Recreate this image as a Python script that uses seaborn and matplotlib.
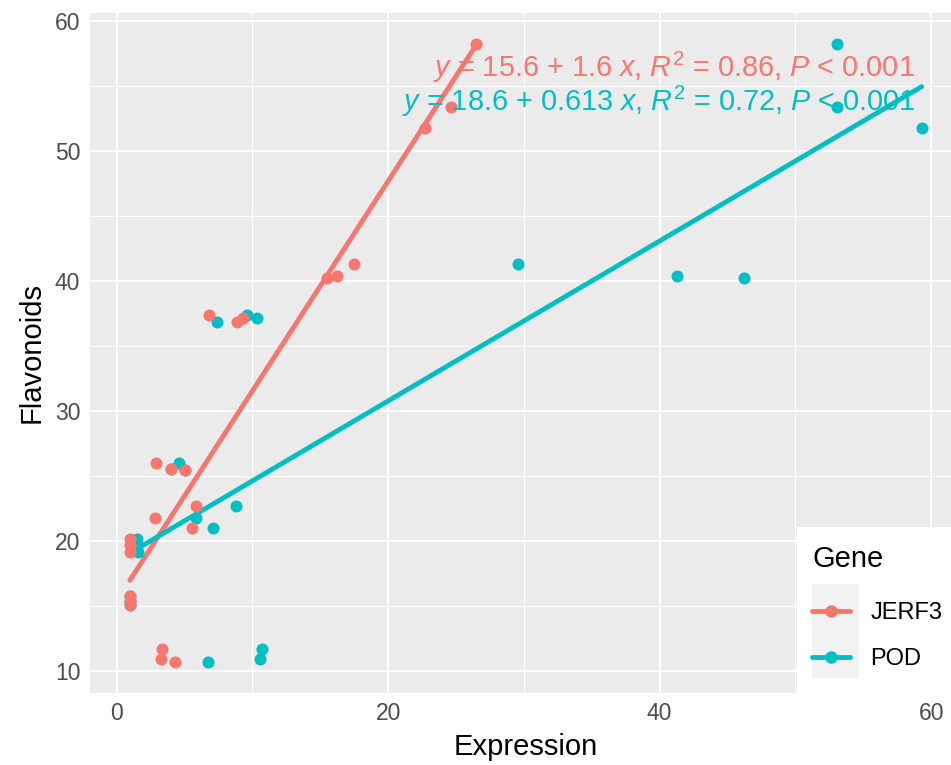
import numpy as np
import pandas as pd
import matplotlib
matplotlib.use('Agg')
import matplotlib.pyplot as plt
from matplotlib.lines import Line2D
from matplotlib.patches import Rectangle
from matplotlib.ticker import MultipleLocator
import seaborn as sns

# Valeurs (une position = un echantillon)
flavonoids = [58.2, 53.4, 51.8, 41.3, 40.4, 40.2, 37.4, 37.15, 36.85,
              26.0, 25.55, 25.5, 22.7, 21.8, 21.0, 20.2, 19.7, 19.2,
              15.8, 15.4, 15.1, 11.7, 10.95, 10.7]
jerf3_expr = [26.45, 24.6, 22.7, 17.5, 16.2, 15.5, 6.82, 9.28, 8.84,
              2.9, 4.0, 5.03, 5.82, 2.82, 5.57, 0.98, 0.98, 0.98,
              0.98, 0.98, 0.98, 3.36, 3.26, 4.27]
pod_expr = [53.1, 53.1, 59.3, 29.6, 41.3, 46.2, 9.62, 10.35, 7.39,
            4.59, 4.0, 5.03, 8.76, 5.82, 7.1, 1.47, 1.5, 1.55,
            1.0, 1.0, 1.0, 10.72, 10.55, 6.75]

genes = ['JERF3', 'POD']
colors = ['#F8766D', '#00BFC4']
eq_labels = [r'$y$ = 15.6 + 1.6 $x$, $R^2$ = 0.86, $P$ < 0.001',
             r'$y$ = 18.6 + 0.613 $x$, $R^2$ = 0.72, $P$ < 0.001']
x_ticks = [0, 20, 40, 60]
y_ticks = [10, 20, 30, 40, 50, 60]

n = len(flavonoids)
df = pd.DataFrame({
    'Expression': jerf3_expr + pod_expr,
    'Flavonoids': flavonoids * 2,
    'Gene': ['JERF3'] * n + ['POD'] * n,
})

sns.set_style('darkgrid', {'axes.facecolor': '#EBEBEB', 'grid.color': 'white'})
plt.rcParams['font.family'] = ['Liberation Sans', 'DejaVu Sans']
plt.rcParams['mathtext.fontset'] = 'custom'
plt.rcParams['mathtext.rm'] = 'Liberation Sans'
plt.rcParams['mathtext.it'] = 'Liberation Sans:italic'

fig = plt.figure(figsize=(9.51, 7.65), dpi=100)
# le panneau depasse un peu a droite (image d'origine rognee)
ax = fig.add_axes([90 / 951, 72.3 / 765, 871 / 951, 679.7 / 765])

palette = dict(zip(genes, colors))

# droites de regression
for g in genes:
    sub = df[df['Gene'] == g]
    sns.regplot(data=sub, x='Expression', y='Flavonoids', scatter=False, ci=None,
                color=palette[g], line_kws={'lw': 3.5, 'zorder': 2}, ax=ax)

# points (JERF3 au-dessus)
for g in ['POD', 'JERF3']:
    sub = df[df['Gene'] == g]
    sns.scatterplot(data=sub, x='Expression', y='Flavonoids', color=palette[g],
                    s=75, linewidth=0, legend=False, zorder=3, ax=ax)

ax.set_xlim(-1.96, 62.2)
ax.set_ylim(8.37, 60.6)
ax.set_xticks(x_ticks)
ax.set_yticks(y_ticks)
ax.xaxis.set_minor_locator(MultipleLocator(10))
ax.yaxis.set_minor_locator(MultipleLocator(5))
ax.set_axisbelow(True)
ax.grid(which='major', color='white', lw=1.5)
ax.grid(which='minor', color='white', lw=0.8)
ax.tick_params(which='major', length=4, width=1.3, color='#333333',
               labelcolor='#4D4D4D', labelsize=16.5, pad=3)
ax.tick_params(which='minor', length=0)
for s in ax.spines.values():
    s.set_visible(False)

ax.set_xlabel('Expression', fontsize=21, color='black')
ax.set_ylabel('Flavonoids', fontsize=21, color='black')
ax.xaxis.set_label_coords(0.5, -0.059)
ax.yaxis.set_label_coords(-0.0505, 0.5)

# equations
ax.text(58.81, 55.7, eq_labels[0], color=colors[0], fontsize=20.8, ha='right', va='baseline', zorder=5)
ax.text(58.81, 53.08, eq_labels[1], color=colors[1], fontsize=20.8, ha='right', va='baseline', zorder=5)

# legende dans le coin bas-droit
ax.add_patch(Rectangle((0.8117, 0), 0.1883, 0.2438, transform=ax.transAxes,
                       facecolor='white', edgecolor='none', zorder=4, clip_on=False))
ax.add_patch(Rectangle((0.8289, 0.0216), 0.054, 0.1383, transform=ax.transAxes,
                       facecolor='#F2F2F2', edgecolor='none', zorder=4.5, clip_on=False))
handles = [Line2D([], [], color=c, lw=3.5, marker='o', ms=8) for c in colors]
leg = ax.legend(handles, genes, title='Gene', loc='upper left', bbox_to_anchor=(0.829, 0.2173),
                frameon=False, fontsize=17, title_fontsize=21, handlelength=1.61,
                handletextpad=0.85, labelspacing=1.0, borderpad=0, borderaxespad=0,
                alignment='left', labelcolor='black')
leg.get_title().set_color('black')
leg._legend_box.sep = 21
leg.set_zorder(6)

fig.savefig('out.png', dpi=100)
